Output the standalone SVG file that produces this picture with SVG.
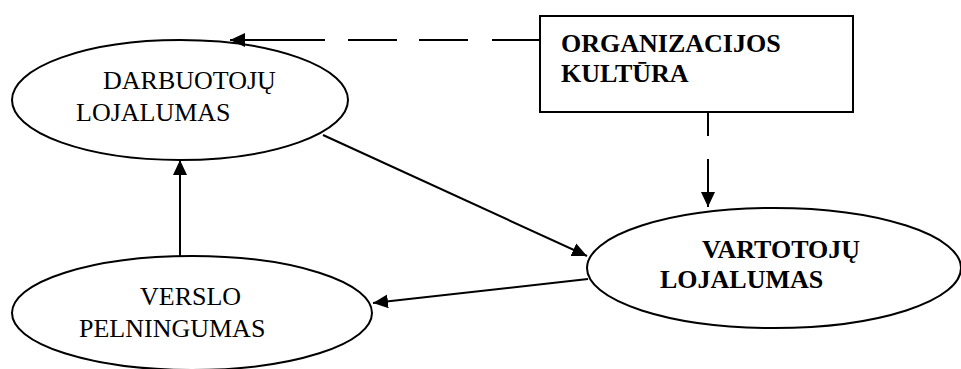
<svg xmlns="http://www.w3.org/2000/svg" width="961" height="369" viewBox="0 0 961 369">
  <style>
    .shape { fill: #fff; stroke: #000; stroke-width: 2; }
    .edge { fill: none; stroke: #000; stroke-width: 2; marker-end: url(#head); }
    .label { font-family: "Liberation Serif", "Times New Roman", serif; font-size: 26px; fill: #000; }
    .bold { font-weight: bold; }
  </style>
  <defs>
    <marker id="head" viewBox="0 0 15 14" refX="15" refY="7" markerWidth="15" markerHeight="14" markerUnits="userSpaceOnUse" orient="auto">
      <path d="M0,0 L15,7 L0,14 z" fill="#000"/>
    </marker>
  </defs>
  <rect width="961" height="369" fill="#fff"/>

  <g id="darbuotoju-lojalumas">
    <ellipse class="shape" cx="180" cy="100" rx="168" ry="60"/>
    <text class="label" x="103" y="89">DARBUOTOJŲ</text>
    <text class="label" x="76" y="121">LOJALUMAS</text>
  </g>

  <g id="organizacijos-kultura">
    <rect class="shape" x="540" y="16" width="313" height="96"/>
    <text class="label bold" x="561" y="52">ORGANIZACIJOS</text>
    <text class="label bold" x="561" y="82">KULTŪRA</text>
  </g>

  <g id="vartotoju-lojalumas">
    <ellipse class="shape" cx="774" cy="268" rx="187" ry="60"/>
    <text class="label bold" x="702" y="258">VARTOTOJŲ</text>
    <text class="label bold" x="660" y="288">LOJALUMAS</text>
  </g>

  <g id="verslo-pelningumas">
    <ellipse class="shape" cx="192" cy="313" rx="180" ry="57"/>
    <text class="label" x="140" y="305">VERSLO</text>
    <text class="label" x="79" y="337">PELNINGUMAS</text>
  </g>

  <g id="connectors">
    <!-- dashed influence links from the culture box -->
    <path class="edge" d="M540,40 H492 M468,40 H419 M397,40 H348 M325,40 H230"/>
    <path class="edge" d="M708,112 V136 M708,159 V207"/>
    <!-- solid cycle links -->
    <path class="edge" d="M323,135 L587,256"/>
    <path class="edge" d="M588,279 L373,303"/>
    <path class="edge" d="M180,256 V160"/>
  </g>
</svg>
